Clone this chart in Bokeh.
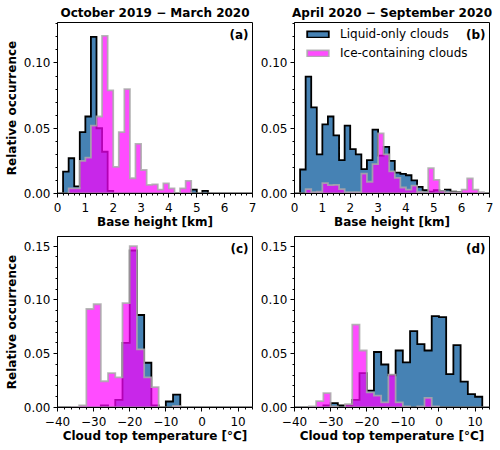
import numpy as np
from bokeh.plotting import figure
from bokeh.layouts import gridplot
from bokeh.models import (Range1d, SingleIntervalTicker, CustomJSTickFormatter,
                          Label, Legend, LegendItem)
from bokeh.embed import file_html
from bokeh.resources import INLINE

FONT = "DejaVu Sans"

# ---------------- data ----------------
height_edges = np.linspace(0, 7, 36)      # 0.2 km bins
temp_edges = np.linspace(-40, 14, 28)     # 2 degC bins

# (a) Oct 2019 - Mar 2020, base height
a_liquid = [0, 0.0168, 0.027, 0.0054, 0.047, 0.059, 0.120, 0.050, 0.032, 0.002,
            0, 0, 0, 0, 0, 0, 0, 0, 0, 0,
            0, 0, 0, 0, 0.003, 0, 0.002, 0, 0, 0,
            0, 0, 0, 0, 0]
a_ice = [0, 0, 0.004, 0.004, 0.025, 0.0275, 0.052, 0.059, 0.1207, 0.079,
         0.0204, 0.047, 0.080, 0.0117, 0.038, 0.018, 0.0066, 0.007, 0.003, 0.0077,
         0.004, 0, 0.004, 0.0097, 0, 0, 0, 0, 0, 0,
         0, 0, 0, 0, 0]
# (b) Apr 2020 - Sep 2020, base height
b_liquid = [0, 0.0184, 0.0895, 0.066, 0.030, 0.053, 0.059, 0.0446, 0.0255, 0.052,
            0.034, 0.030, 0.0186, 0.0255, 0.049, 0.029, 0.0357, 0.025, 0.016, 0.015,
            0.014, 0.010, 0.005, 0.0025, 0.0015, 0.0025, 0.002, 0.003, 0.0015, 0.001,
            0, 0, 0, 0, 0]
b_ice = [0, 0, 0.0033, 0.001, 0.0015, 0.008, 0.0064, 0.0066, 0.0033, 0.001,
         0.001, 0.001, 0.0153, 0.009, 0.0225, 0.046, 0.030, 0.017, 0.012, 0.0046,
         0.003, 0.006, 0.0015, 0.001, 0.0194, 0.0105, 0.002, 0.001, 0.001, 0.001,
         0.003, 0.0115, 0.003, 0.001, 0]
# (c) Oct 2019 - Mar 2020, cloud top temperature
c_liquid = [0, 0, 0, 0, 0, 0, 0.002, 0, 0.007, 0.060,
            0.146, 0.086, 0.0416, 0.002, 0, 0.0056, 0.012, 0, 0, 0,
            0, 0, 0, 0, 0, 0, 0]
c_ice = [0, 0, 0.0006, 0.002, 0.0916, 0.096, 0.0244, 0.032, 0.028, 0.097,
         0.150, 0.054, 0.028, 0.019, 0, 0, 0.0015, 0, 0, 0,
         0, 0, 0, 0, 0, 0, 0]
# (d) Apr 2020 - Sep 2020, cloud top temperature
d_liquid = [0, 0, 0, 0, 0.002, 0.004, 0.002, 0.002, 0.007, 0.032,
            0.0156, 0.0516, 0.040, 0.030, 0.053, 0.042, 0.071, 0.059, 0.053, 0.085,
            0.084, 0.031, 0.058, 0.024, 0.0125, 0.010, 0]
d_ice = [0, 0, 0.001, 0.006, 0.0134, 0.001, 0, 0.003, 0.077, 0.053,
         0.014, 0.011, 0.0047, 0.0306, 0.0047, 0.001, 0, 0.001, 0.009, 0.001,
         0, 0, 0, 0, 0, 0, 0]

titles = ["October 2019 \u2212 March 2020", "April 2020 \u2212 September 2020"]
panel_tags = ["(a)", "(b)", "(c)", "(d)"]
legend_labels = ["Liquid-only clouds", "Ice-containing clouds"]
ylabel = "Relative occurrence"
xlabels = ["Base height [km]", "Cloud top temperature [\u00b0C]"]


def step_poly(edges, vals):
    xs = [edges[0]]
    ys = [0.0]
    for i, v in enumerate(vals):
        xs += [edges[i], edges[i + 1]]
        ys += [v, v]
    xs.append(edges[-1])
    ys.append(0.0)
    return xs, ys


def style_axes(p):
    for ax in (p.xaxis + p.yaxis):
        ax.major_tick_out = 4
        ax.major_tick_in = 0
        ax.minor_tick_out = 2
        ax.minor_tick_in = 0
        ax.axis_line_color = "black"
        ax.major_tick_line_color = "black"
        ax.minor_tick_line_color = "black"
        ax.major_label_text_font = FONT
        ax.major_label_text_font_size = "12px"
        ax.major_label_text_color = "black"
        ax.axis_label_text_font = FONT
        ax.axis_label_text_font_size = "12px"
        ax.axis_label_text_font_style = "bold"
        ax.axis_label_text_color = "black"
    for ax in p.xaxis:
        ax.major_label_standoff = 5
        ax.axis_label_standoff = 0
    for ax in p.yaxis:
        ax.major_label_standoff = 3
        ax.axis_label_standoff = 2
    p.xgrid.visible = False
    p.ygrid.visible = False
    p.outline_line_color = "black"
    p.outline_line_width = 1
    p.outline_line_alpha = 1


def make_panel(edges, liquid, ice, xr, ymax, xtick, tag, title=None, ylab=None,
               xlab=None, left=35, top=8, bottom=40, legend=False, temp=False):
    kw = dict(frame_width=195, frame_height=171,
              x_range=Range1d(*xr), y_range=Range1d(0, ymax),
              output_backend="svg", toolbar_location=None,
              min_border_left=left, min_border_right=5,
              min_border_top=top, min_border_bottom=bottom)
    if title:
        kw["title"] = title
    p = figure(**kw)
    if title:
        p.title.text_font = FONT
        p.title.text_font_size = "12px"
        p.title.text_font_style = "bold"
        p.title.text_color = "black"
        p.title.align = "center"
        p.title.standoff = 5
        p.title.offset = 0

    xs, ys = step_poly(edges, liquid)
    r1 = p.patch(xs, ys, fill_color="steelblue", fill_alpha=1.0,
                 line_color="black", line_width=1.8, line_join="miter")
    xs, ys = step_poly(edges, ice)
    r2 = p.patch(xs, ys, fill_color="magenta", fill_alpha=0.7,
                 line_color="darkgray", line_alpha=0.85, line_width=1.8,
                 line_join="miter")

    p.xaxis.ticker = SingleIntervalTicker(interval=xtick, num_minor_ticks=5)
    p.yaxis.ticker = SingleIntervalTicker(interval=0.05, num_minor_ticks=5)
    p.yaxis.formatter = CustomJSTickFormatter(code="return tick.toFixed(2);")
    if temp:
        p.xaxis.formatter = CustomJSTickFormatter(
            code="return tick < 0 ? '\\u2212' + (-tick).toFixed(0) : tick.toFixed(0);")
    else:
        p.xaxis.formatter = CustomJSTickFormatter(code="return tick.toFixed(0);")
    if ylab:
        p.yaxis.axis_label = ylab
    if xlab:
        p.xaxis.axis_label = xlab
    style_axes(p)

    p.add_layout(Label(x=xr[1], y=ymax, x_offset=-4, y_offset=-5, text=tag,
                       text_align="right", text_baseline="top",
                       text_font=FONT, text_font_size="12px",
                       text_font_style="bold", text_color="black"))
    if legend:
        lg = Legend(items=[LegendItem(label=legend_labels[0], renderers=[r1]),
                           LegendItem(label=legend_labels[1], renderers=[r2])],
                    location=(10, 132))
        lg.border_line_alpha = 0
        lg.background_fill_alpha = 0
        lg.glyph_width = 27
        lg.glyph_height = 8
        lg.label_height = 17
        lg.label_standoff = 9
        lg.spacing = 2
        lg.padding = 0
        lg.margin = 0
        lg.label_text_font = FONT
        lg.label_text_font_size = "12px"
        lg.label_text_color = "black"
        p.add_layout(lg)
    return p


pa = make_panel(height_edges, a_liquid, a_ice, (0, 7), 0.131, 1, panel_tags[0],
                title=titles[0], ylab=ylabel, xlab=xlabels[0], left=57, top=22,
                bottom=36)
pb = make_panel(height_edges, b_liquid, b_ice, (0, 7), 0.131, 1, panel_tags[1],
                title=titles[1], xlab=xlabels[0], left=35, top=22, bottom=36,
                legend=True)
pc = make_panel(temp_edges, c_liquid, c_ice, (-40, 14), 0.159, 10, panel_tags[2],
                ylab=ylabel, xlab=xlabels[1], left=57, top=5, bottom=40, temp=True)
pd = make_panel(temp_edges, d_liquid, d_ice, (-40, 14), 0.159, 10, panel_tags[3],
                xlab=xlabels[1], left=35, top=5, bottom=40, temp=True)

grid = gridplot([[pa, pb], [pc, pd]], toolbar_location=None)

with open("out.html", "w", encoding="utf-8") as f:
    f.write(file_html(grid, INLINE))
